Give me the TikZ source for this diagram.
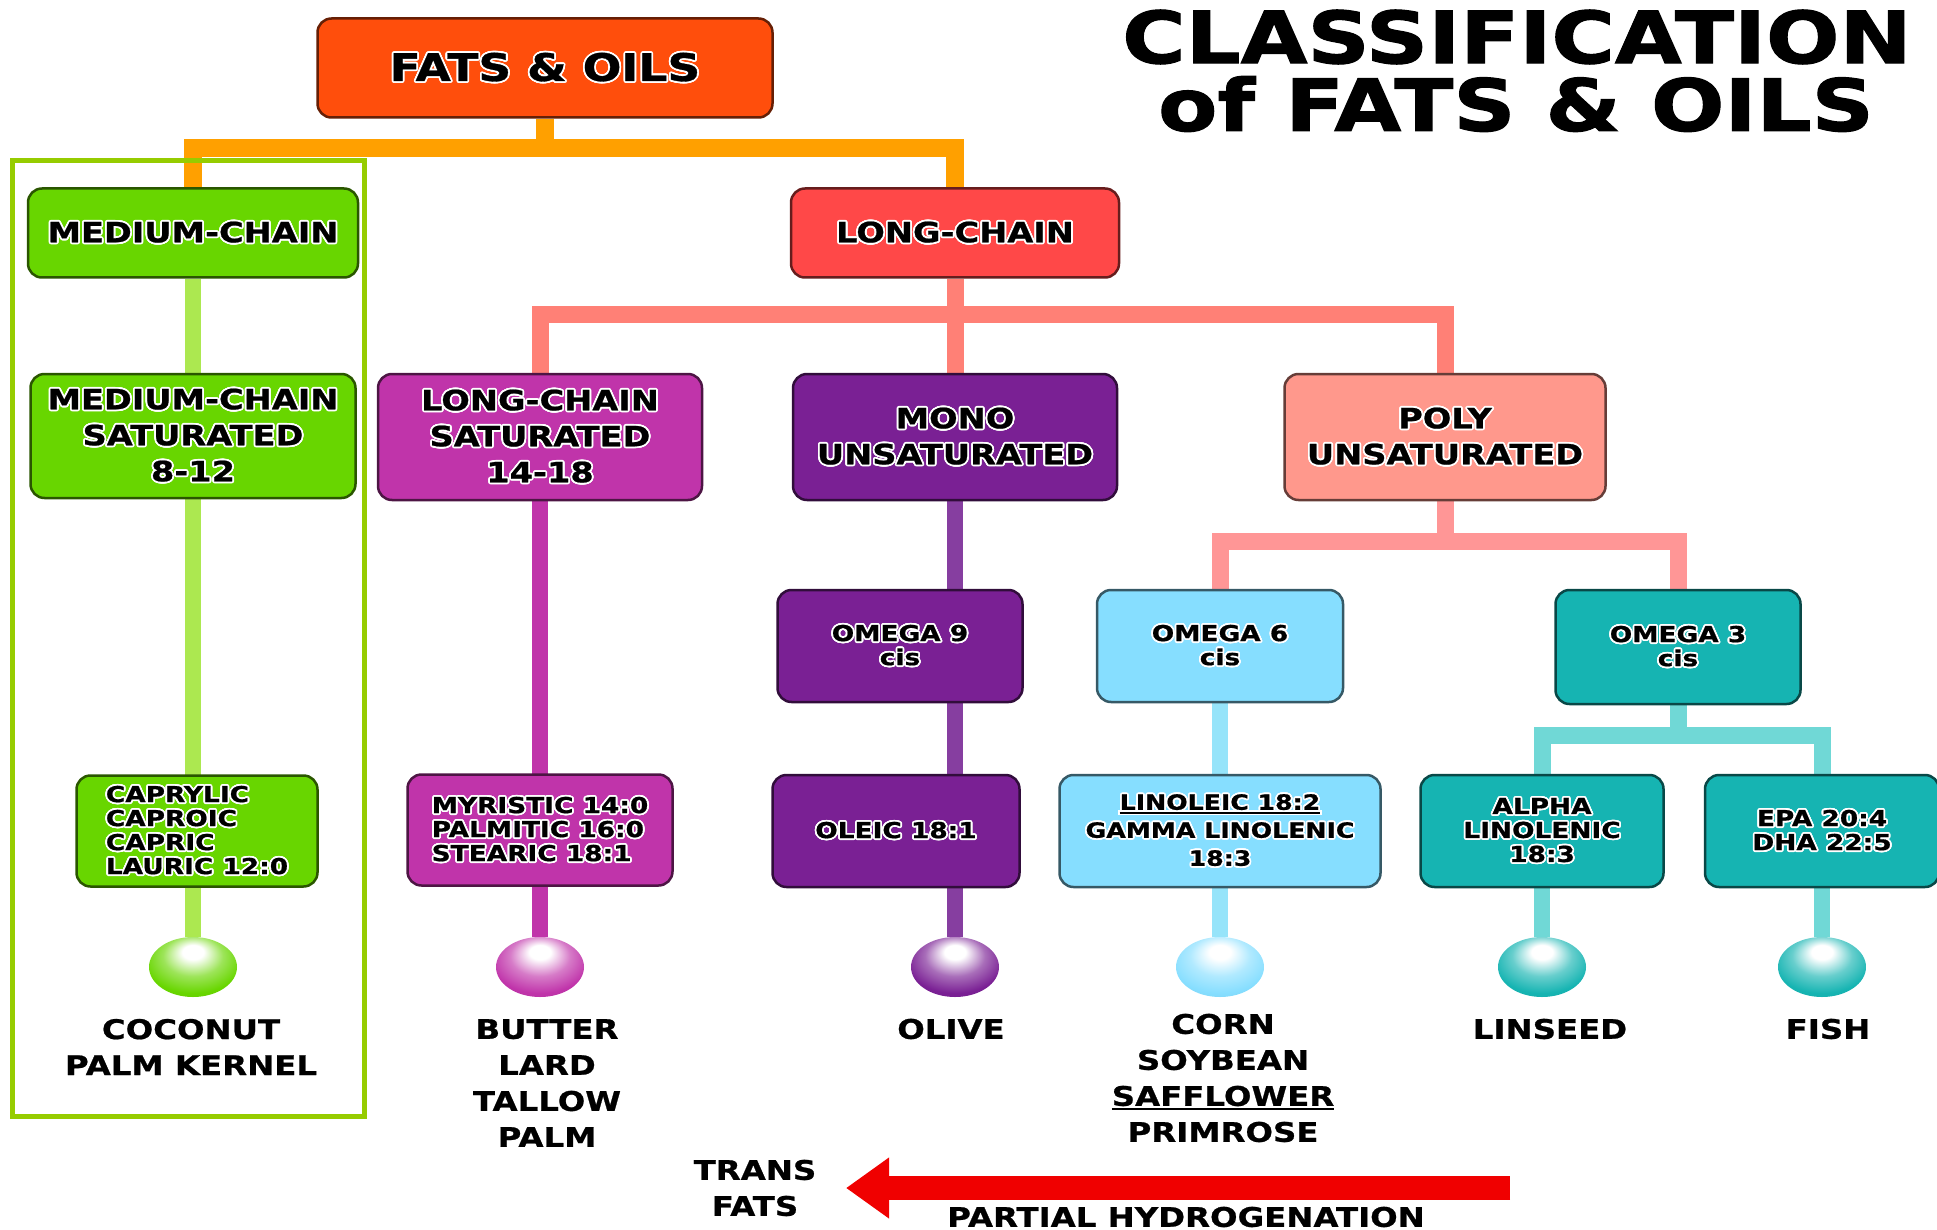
\documentclass[tikz,border=0pt]{standalone}
\usepackage{fontspec}
\usepackage{contour}
\usetikzlibrary{arrows.meta}
\usetikzlibrary{shapes.geometric}
\usetikzlibrary{backgrounds}

\newfontfamily\boxfont{DejaVu Sans Bold}[FakeStretch=1.2,FakeBold=0.8]
\newfontfamily\titlefont{DejaVu Sans Bold}[FakeStretch=1.2,FakeBold=1.5]
\contourlength{1.8pt}
\newcommand{\hl}[1]{\contour{white}{#1}}
\newcommand{\undl}[1]{\vtop{\hbox{#1}\kern1.5pt\hrule height 2pt}}

\makeatletter
\pgfdeclareradialshading[tikz@ball]{glossy}{\pgfpoint{0bp}{14bp}}{color(0bp)=(white);
  color(6bp)=(white); color(17bp)=(tikz@ball!65!white); color(28bp)=(tikz@ball);
  color(50bp)=(tikz@ball!85!black)}
\makeatother

\definecolor{fatsred}{RGB}{255,78,12}
\definecolor{busorange}{RGB}{255,160,0}
\definecolor{medgreen}{RGB}{104,214,0}
\definecolor{limeline}{RGB}{172,232,80}
\definecolor{framegreen}{RGB}{150,204,0}
\definecolor{longred}{RGB}{255,72,72}
\definecolor{coral}{RGB}{255,128,118}
\definecolor{magenta}{RGB}{192,52,170}
\definecolor{monopurple}{RGB}{122,32,148}
\definecolor{purpline}{RGB}{134,62,160}
\definecolor{salmon}{RGB}{255,152,140}
\definecolor{pinkline}{RGB}{255,150,150}
\definecolor{skyblue}{RGB}{134,222,255}
\definecolor{skyline}{RGB}{150,228,250}
\definecolor{teal}{RGB}{22,180,178}
\definecolor{tealline}{RGB}{112,216,214}
\definecolor{hydred}{RGB}{240,0,0}

\tikzset{
  box/.style={draw=#1!40!black, fill=#1, rounded corners=14pt, line width=2.5pt,
    align=center, inner sep=0pt, font=\boxfont\fontsize{28}{36}\selectfont},
  size/.style 2 args={minimum width=#1pt, minimum height=#2pt},
  small/.style={font=\boxfont\fontsize{22}{24}\selectfont},
  link/.style={line width=17pt, #1},
  ball/.style={ellipse, inner sep=0pt, minimum width=88pt, minimum height=60pt,
    ball color=#1, shading=glossy},
  lbl/.style={align=center, inner sep=0pt, font=\boxfont\fontsize{27}{36}\selectfont},
  title/.style={inner sep=0pt, font=\titlefont\fontsize{72}{80}\selectfont}
}

\begin{document}
\begin{tikzpicture}[x=1pt, y=-1pt]
\useasboundingbox (0,0) rectangle (1937,1230);

% title
\node[title] (t1) at (1517,37) {CLASSIFICATION};
\node[title] (t2) at (1516,104) {of FATS \& OILS};

% boxes
\node[box=fatsred, size={455}{99}, font=\boxfont\fontsize{38}{40}\selectfont] (fats) at (545,68) {\hl{FATS \& OILS}};
\node[box=medgreen, size={330}{89}] (medium) at (193,233) {\hl{MEDIUM-CHAIN}};
\node[box=longred, size={328}{89}] (long) at (955,233) {\hl{LONG-CHAIN}};

\node[box=medgreen, size={325}{124}] (mcs) at (193,436) {\hl{MEDIUM-CHAIN}\\\hl{SATURATED}\\\hl{8-12}};
\node[box=magenta, size={324}{126}] (lcs) at (540,437) {\hl{LONG-CHAIN}\\\hl{SATURATED}\\\hl{14-18}};
\node[box=monopurple, size={324}{126}] (mono) at (955,437) {\hl{MONO}\\\hl{UNSATURATED}};
\node[box=salmon, size={321}{126}] (poly) at (1445,437) {\hl{POLY}\\\hl{UNSATURATED}};

\node[box=monopurple, size={245}{112}, small] (om9) at (900,646) {\hl{OMEGA 9}\\\hl{cis}};
\node[box=skyblue, size={246}{112}, small] (om6) at (1220,646) {\hl{OMEGA 6}\\\hl{cis}};
\node[box=teal, size={245}{114}, small] (om3) at (1678,647) {\hl{OMEGA 3}\\\hl{cis}};

\node[box=medgreen, size={241}{111}, small, align=left] (cap) at (197,831) {\hl{CAPRYLIC}\\\hl{CAPROIC}\\\hl{CAPRIC}\\\hl{LAURIC 12:0}};
\node[box=magenta, size={265}{111}, small, align=left] (myr) at (540,830) {\hl{MYRISTIC 14:0}\\\hl{PALMITIC 16:0}\\\hl{STEARIC 18:1}};
\node[box=monopurple, size={247}{112}, small] (ole) at (896,831) {\hl{OLEIC 18:1}};
\node[box=skyblue, size={321}{112}, font=\boxfont\fontsize{21}{28}\selectfont] (lin) at (1220,831) {\hl{\undl{LINOLEIC 18:2}}\\\hl{GAMMA LINOLENIC}\\\hl{18:3}};
\node[box=teal, size={243}{112}, small] (ala) at (1542,831) {\hl{ALPHA}\\\hl{LINOLENIC}\\\hl{18:3}};
\node[box=teal, size={234}{112}, small] (epa) at (1822,831) {\hl{EPA 20:4}\\\hl{DHA 22:5}};

% balls
\node[ball=medgreen] (mball) at (193,967) {};
\node[ball=magenta] (lball) at (540,967) {};
\node[ball=monopurple] (oball) at (955,967) {};
\node[ball=skyblue] (cball) at (1220,967) {};
\node[ball=teal] (sball) at (1542,967) {};
\node[ball=teal] (fball) at (1822,967) {};

% sources
\node[lbl] (coco) at (191,1047) {COCONUT\\PALM KERNEL};
\node[lbl] (butter) at (547,1083) {BUTTER\\LARD\\TALLOW\\PALM};
\node[lbl] (olive) at (951,1029) {OLIVE};
\node[lbl] (corn) at (1223,1078) {CORN\\SOYBEAN\\\undl{SAFFLOWER}\\PRIMROSE};
\node[lbl] (linseed) at (1550,1029) {LINSEED};
\node[lbl] (fish) at (1828,1029) {FISH};
\node[lbl] (trans) at (755,1188) {TRANS\\FATS};
\node[lbl] (partial) at (1186,1217) {PARTIAL HYDROGENATION};

% connectors
\coordinate (bus1) at (545,148);
\coordinate (bus2) at (955,315);
\coordinate (bus3) at (1445,541);
\coordinate (bus4) at (1678,735);
\begin{scope}[on background layer]
\draw[link=busorange, line width=18pt] (fats.south) -- (bus1);
\draw[link=busorange, line width=18pt] (medium.north) |- (bus1) -| (long.north);
\draw[link=coral] (long.south) -- (bus2);
\draw[link=coral] (lcs.north) |- (bus2) -| (poly.north);
\draw[link=coral] (bus2) -- (mono.north);
\draw[link=pinkline] (poly.south) -- (bus3);
\draw[link=pinkline] (om6.north) |- (bus3) -| (om3.north);
\draw[link=tealline] (om3.south) -- (bus4);
\draw[link=tealline] (ala.north) |- (bus4) -| (epa.north);
\draw[link=limeline, line width=16pt] (medium) -- (mball);
\draw[link=magenta, line width=16pt] (lcs) -- (lball);
\draw[link=purpline, line width=16pt] (mono) -- (oball);
\draw[link=skyline, line width=16pt] (om6) -- (cball);
\draw[link=tealline, line width=16pt] (ala) -- (sball);
\draw[link=tealline, line width=16pt] (epa) -- (fball);
\end{scope}

% medium-chain frame
\draw[framegreen, line width=5pt] (12,161) rectangle (364,1116);

% hydrogenation arrow
\coordinate (ptail) at (1510,1188);
\coordinate (ptip) at (846,1188);
\draw[hydred, line width=24pt, -{Triangle[width=58pt,length=43pt]}] (ptail) -- (ptip);
\end{tikzpicture}
\end{document}
